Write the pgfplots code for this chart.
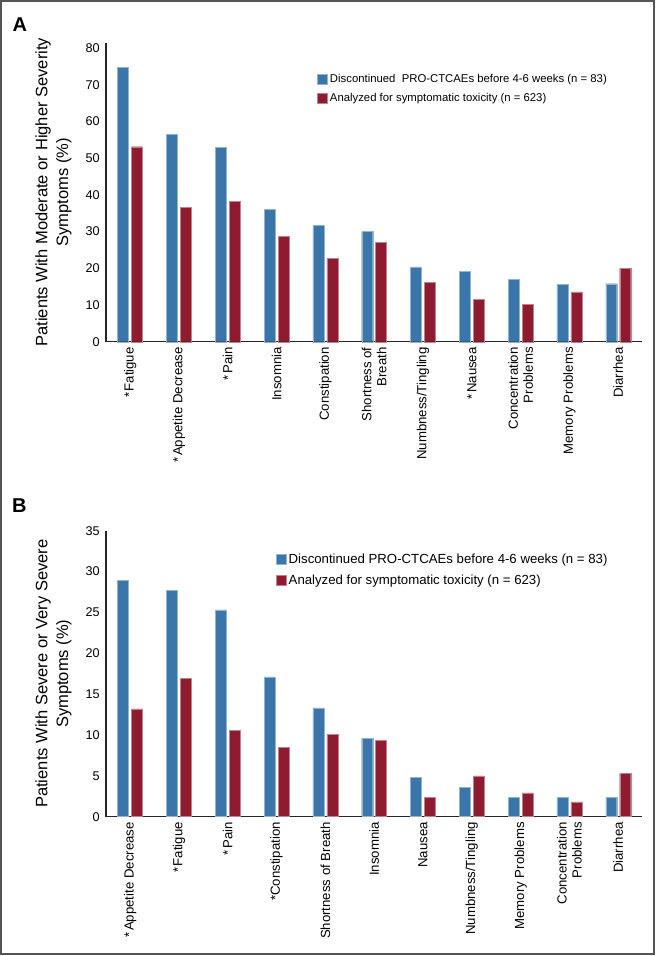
\documentclass[border=0pt]{standalone}
\usepackage{pgfplots}
\usepackage{pgfplotstable}
\pgfplotsset{compat=1.18}
\usepackage{fontspec}
\setmainfont{Liberation Sans}
\definecolor{blueC}{HTML}{3A76A9}
\definecolor{redC}{HTML}{8E1B30}
\definecolor{frameC}{HTML}{555555}

\pgfplotstableread{
x blue red
0 74.7 53.1
1 56.5 36.6
2 52.9 38.3
3 36.1 28.7
4 31.7 22.7
5 30.0 27.1
6 20.4 16.2
7 19.2 11.5
8 17.0 10.1
9 15.6 13.6
10 15.8 20.0
}\dataA

\pgfplotstableread{
x blue red
0 28.9 13.2
1 27.7 16.9
2 25.3 10.6
3 17.1 8.5
4 13.3 10.1
5 9.6 9.3
6 4.8 2.4
7 3.6 5.0
8 2.4 2.9
9 2.4 1.8
10 2.4 5.3
}\dataB

\pgfplotsset{
  panel/.style={
    scale only axis,
    width=402pt,
    xmin=-0.495, xmax=10.487,
    axis x line=bottom, axis y line=left,
    axis line style={-, line width=0.9pt, black!85},
    major tick length=0pt,
    xtick={0,...,10},
    /pgf/number format/assume math mode=true,
    yticklabel style={font=\fontsize{9.5}{11}\selectfont, inner sep=0pt, xshift=-4.5pt},
    xticklabel style={rotate=90, anchor=east, align=right, inner sep=0pt,
      font=\fontsize{9.9}{11.2}\selectfont},
    xticklabel shift=4pt,
    every axis y label/.style={at={(axis description cs:-0.098,0.5)}, rotate=90, anchor=center,
      align=center, font=\fontsize{12.4}{15.7}\selectfont},
    legend cell align=left,
    legend image code/.code={\fill[##1] (0pt,-3.75pt) rectangle (7.5pt,3.75pt);},
    clip=false,
  },
  barA/.style={ybar, bar width=0.225, bar shift=-0.143, fill=blueC, draw=blueC!55!white, line width=0.3pt},
  barB/.style={ybar, bar width=0.225, bar shift=0.143, fill=redC, draw=redC!55!white, line width=0.3pt},
}

\begin{document}
\begin{tikzpicture}
\useasboundingbox (0pt,0pt) rectangle (492pt,-717pt);
\draw[frameC, line width=1.5pt] (0.75pt,-0.75pt) rectangle (490.5pt,-715.5pt);
\node[font=\bfseries\fontsize{15}{16}\selectfont] at (14.8pt,-18.2pt) {A};
\node[font=\bfseries\fontsize{15}{16}\selectfont] at (14.6pt,-379pt) {B};

\begin{axis}[panel,
  at={(79.5pt,-256.3pt)}, anchor=south west,
  height=224.2pt,
  ymin=0, ymax=81.4,
  ytick={0,10,...,80},
  xticklabels={{*\kern1pt Fatigue},{*\kern1pt Appetite Decrease},{*\kern1pt Pain},{Insomnia},{Constipation},{Shortness of\\Breath},{Numbness/Tingling},{*\kern1pt Nausea},{Concentration\\Problems},{Memory Problems},{Diarrhea}},
  ylabel={Patients With Moderate or Higher Severity\\Symptoms (\%)},
  legend style={at={(axis description cs:0.393,0.905)}, anchor=north west, draw=none, fill=none,
    inner sep=0pt, font=\fontsize{8.5}{10}\selectfont, row sep=2.5pt},
]
\addplot[barA] table[x=x, y=blue] {\dataA};
\addlegendentry{Discontinued\ \ PRO-CTCAEs before 4-6 weeks (n = 83)}
\addplot[barB] table[x=x, y=red] {\dataA};
\addlegendentry{Analyzed for symptomatic toxicity (n = 623)}
\end{axis}

\begin{axis}[panel,
  at={(79.5pt,-612.5pt)}, anchor=south west,
  height=214.5pt,
  ymin=0, ymax=35,
  ytick={0,5,...,35},
  xticklabels={{*\kern1pt Appetite Decrease},{*\kern1pt Fatigue},{*\kern1pt Pain},{*Constipation},{Shortness of Breath},{Insomnia},{Nausea},{Numbness/Tingling},{Memory Problems},{Concentration\\Problems},{Diarrhea}},
  ylabel={Patients With Severe or Very Severe\\Symptoms (\%)},
  legend style={at={(axis description cs:0.316,0.93)}, anchor=north west, draw=none, fill=none,
    inner sep=0pt, font=\fontsize{9.9}{11.5}\selectfont, row sep=3pt},
]
\addplot[barA] table[x=x, y=blue] {\dataB};
\addlegendentry{Discontinued PRO-CTCAEs before 4-6 weeks (n = 83)}
\addplot[barB] table[x=x, y=red] {\dataB};
\addlegendentry{Analyzed for symptomatic toxicity (n = 623)}
\end{axis}
\end{tikzpicture}
\end{document}
